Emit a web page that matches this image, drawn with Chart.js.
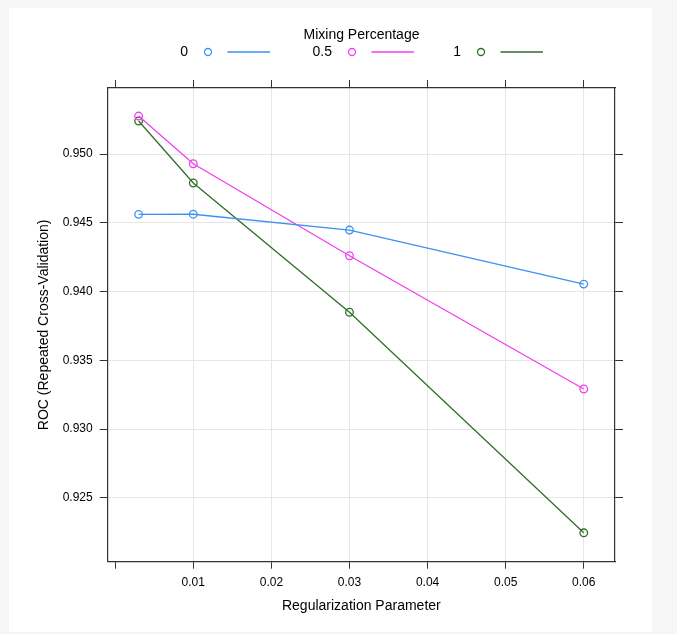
<!DOCTYPE html>
<html>
<head>
<meta charset="utf-8">
<script src="https://cdn.jsdelivr.net/npm/chart.js@4"></script>
<style>
  html, body { margin: 0; padding: 0; background: #f6f6f6; }
  .panel { position: absolute; left: 9px; top: 8px; width: 643px; height: 624px; background: #fff; }
</style>
</head>
<body>
<div class="panel"><canvas id="roc"></canvas></div>
<script>
/* ROC vs regularization parameter, one line per mixing percentage */
const lambdas = [0.003, 0.01, 0.03, 0.06];
const mixLabels = ['0', '0.5', '1'];
const rocMix0 = [0.94561, 0.94562, 0.94447, 0.94054];
const rocMix05 = [0.95276, 0.94929, 0.94260, 0.93291];
const rocMix1 = [0.95240, 0.94789, 0.93849, 0.92245];
const xTicks = [0, 0.01, 0.02, 0.03, 0.04, 0.05, 0.06];
const yTicks = [0.925, 0.930, 0.935, 0.940, 0.945, 0.950];

(function () {
  'use strict';
  const FONT = '"Liberation Sans", Arial, Helvetica, sans-serif';
  const COLORS = ['#3d90f2', '#f040f0', '#2f6f27'];
  const FRAME = '#333';
  const GRID = '#e6e6e6';
  const X_RANGE = [-0.00096, 0.064];
  const Y_RANGE = [0.92035, 0.9548];

  const series = [rocMix0, rocMix05, rocMix1];
  const datasets = series.map((vals, i) => ({
    label: mixLabels[i],
    data: lambdas.map((x, j) => ({ x: x, y: vals[j] })),
    borderColor: COLORS[i],
    backgroundColor: 'rgba(0,0,0,0)',
    borderWidth: 1.3,
    pointStyle: 'circle',
    pointRadius: 3.8,
    pointBorderWidth: 1.3,
    pointBackgroundColor: 'rgba(0,0,0,0)',
    pointBorderColor: COLORS[i],
    tension: 0
  }));

  const fixTicks = vals => scale => { scale.ticks = vals.map(v => ({ value: v })); };

  /* lattice-style key: "label  o  ----" in one row under a title */
  const keyPlugin = {
    id: 'latticeKey',
    afterDraw(chart) {
      const ctx = chart.ctx;
      const anchors = [179, 323, 452];
      ctx.save();
      ctx.fillStyle = '#000';
      ctx.font = '14px ' + FONT;
      ctx.textAlign = 'center';
      ctx.textBaseline = 'middle';
      ctx.fillText('Mixing Percentage', 352.5, 27);
      mixLabels.forEach((lab, i) => {
        const x = anchors[i];
        ctx.fillStyle = '#000';
        ctx.textAlign = 'right';
        ctx.fillText(lab, x, 44.5);
        ctx.strokeStyle = COLORS[i];
        ctx.lineWidth = 1.3;
        ctx.beginPath();
        ctx.arc(x + 20, 44, 3.5, 0, Math.PI * 2);
        ctx.stroke();
        ctx.lineWidth = 1.4;
        ctx.beginPath();
        ctx.moveTo(x + 39.5, 44);
        ctx.lineTo(x + 82, 44);
        ctx.stroke();
      });
      ctx.restore();
    }
  };

  const tickFont = { family: FONT, size: 12 };
  const titleFont = { family: FONT, size: 14 };

  new Chart(document.getElementById('roc'), {
    type: 'line',
    data: { datasets },
    plugins: [keyPlugin],
    options: {
      responsive: true,
      maintainAspectRatio: false,
      animation: false,
      layout: { padding: 0 },
      plugins: { legend: { display: false }, tooltip: { enabled: false } },
      scales: {
        x: {
          type: 'linear',
          position: 'bottom',
          min: X_RANGE[0], max: X_RANGE[1],
          afterBuildTicks: fixTicks(xTicks),
          afterFit: s => { s.height = 70.3; },
          grid: {
            color: c => (c.tick && c.tick.value === 0) ? 'rgba(0,0,0,0)' : GRID,
            tickColor: FRAME, tickLength: 7, lineWidth: 1
          },
          border: { display: true, color: FRAME, width: 1.2 },
          ticks: {
            font: tickFont, color: '#000', padding: 7, maxRotation: 0,
            callback: v => v === 0 ? '' : v.toFixed(2)
          },
          title: { display: true, text: 'Regularization Parameter', font: titleFont, color: '#000', padding: 17 }
        },
        x2: {
          type: 'linear',
          position: 'top',
          min: X_RANGE[0], max: X_RANGE[1],
          afterBuildTicks: fixTicks(xTicks),
          afterFit: s => { s.height = 80; },
          grid: { drawOnChartArea: false, tickColor: FRAME, tickLength: 8 },
          border: { display: true, color: FRAME, width: 1.2 },
          ticks: { display: false }
        },
        y: {
          type: 'linear',
          position: 'left',
          min: Y_RANGE[0], max: Y_RANGE[1],
          afterBuildTicks: fixTicks(yTicks),
          afterFit: s => { s.width = 98.7; },
          grid: { color: GRID, tickColor: FRAME, tickLength: 8, lineWidth: 1 },
          border: { display: true, color: FRAME, width: 1.2 },
          ticks: { font: tickFont, color: '#000', padding: 7, callback: v => v.toFixed(3) },
          title: { display: true, text: 'ROC (Repeated Cross-Validation)', font: titleFont, color: '#000', padding: 27 }
        },
        y2: {
          type: 'linear',
          position: 'right',
          min: Y_RANGE[0], max: Y_RANGE[1],
          afterBuildTicks: fixTicks(yTicks),
          afterFit: s => { s.width = 37; },
          grid: { drawOnChartArea: false, tickColor: FRAME, tickLength: 8 },
          border: { display: true, color: FRAME, width: 1.2 },
          ticks: { display: false }
        }
      }
    }
  });
})();
</script>
</body>
</html>
